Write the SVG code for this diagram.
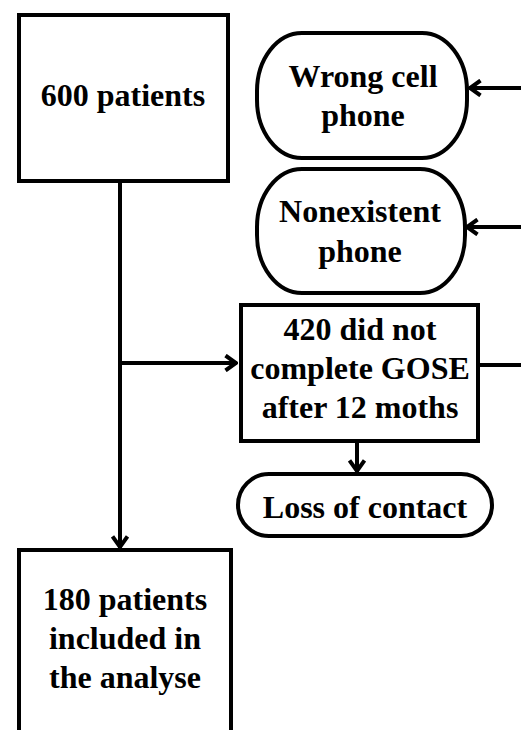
<svg xmlns="http://www.w3.org/2000/svg" width="521" height="730" viewBox="0 0 521 730">
<style>
.box{fill:#fff;stroke:#000;stroke-width:4}
.t{font-family:"Liberation Serif","Times New Roman",serif;font-weight:bold;font-size:32px;text-anchor:middle;fill:#000}
.c{fill:none;stroke:#000;stroke-width:4}
</style>
<defs>
<marker id="ah" viewBox="0 0 14 18" refX="13" refY="9" markerWidth="14" markerHeight="18" markerUnits="userSpaceOnUse" orient="auto">
<path d="M1.5,1.5 L12,9 L1.5,16.5" fill="none" stroke="#000" stroke-width="4" stroke-linejoin="miter"/>
</marker>
</defs>
<g id="connectors">
<line class="c" x1="120" y1="181" x2="120" y2="548" marker-end="url(#ah)"/>
<line class="c" x1="120" y1="363" x2="237" y2="363" marker-end="url(#ah)"/>
<line class="c" x1="521" y1="88" x2="469" y2="88" marker-end="url(#ah)"/>
<line class="c" x1="521" y1="227" x2="466" y2="227" marker-end="url(#ah)"/>
<line class="c" x1="478" y1="365" x2="521" y2="365"/>
<line class="c" x1="357" y1="442" x2="357" y2="472" marker-end="url(#ah)"/>
</g>
<g id="n600">
<rect class="box" x="19" y="15" width="209" height="166"/>
<text class="t" x="123" y="106">600 patients</text>
</g>
<g id="wrong">
<rect class="box" x="257" y="33" width="210" height="125" rx="45" ry="58"/>
<text class="t" x="363" y="87">Wrong cell</text>
<text class="t" x="363" y="126">phone</text>
</g>
<g id="nonexist">
<rect class="box" x="257" y="169" width="208" height="124" rx="45" ry="58"/>
<text class="t" x="360" y="222">Nonexistent</text>
<text class="t" x="360" y="262">phone</text>
</g>
<g id="n420">
<rect class="box" x="241" y="305" width="237" height="136"/>
<text class="t" x="360" y="340">420 did not</text>
<text class="t" x="360" y="379">complete GOSE</text>
<text class="t" x="360" y="418">after 12 moths</text>
</g>
<g id="loss">
<rect class="box" x="238" y="474" width="254" height="62" rx="31" ry="31"/>
<text class="t" x="365" y="518">Loss of contact</text>
</g>
<g id="n180">
<rect class="box" x="19" y="550" width="212" height="200"/>
<text class="t" x="125" y="610">180 patients</text>
<text class="t" x="125" y="649">included in</text>
<text class="t" x="125" y="688">the analyse</text>
</g>
</svg>
